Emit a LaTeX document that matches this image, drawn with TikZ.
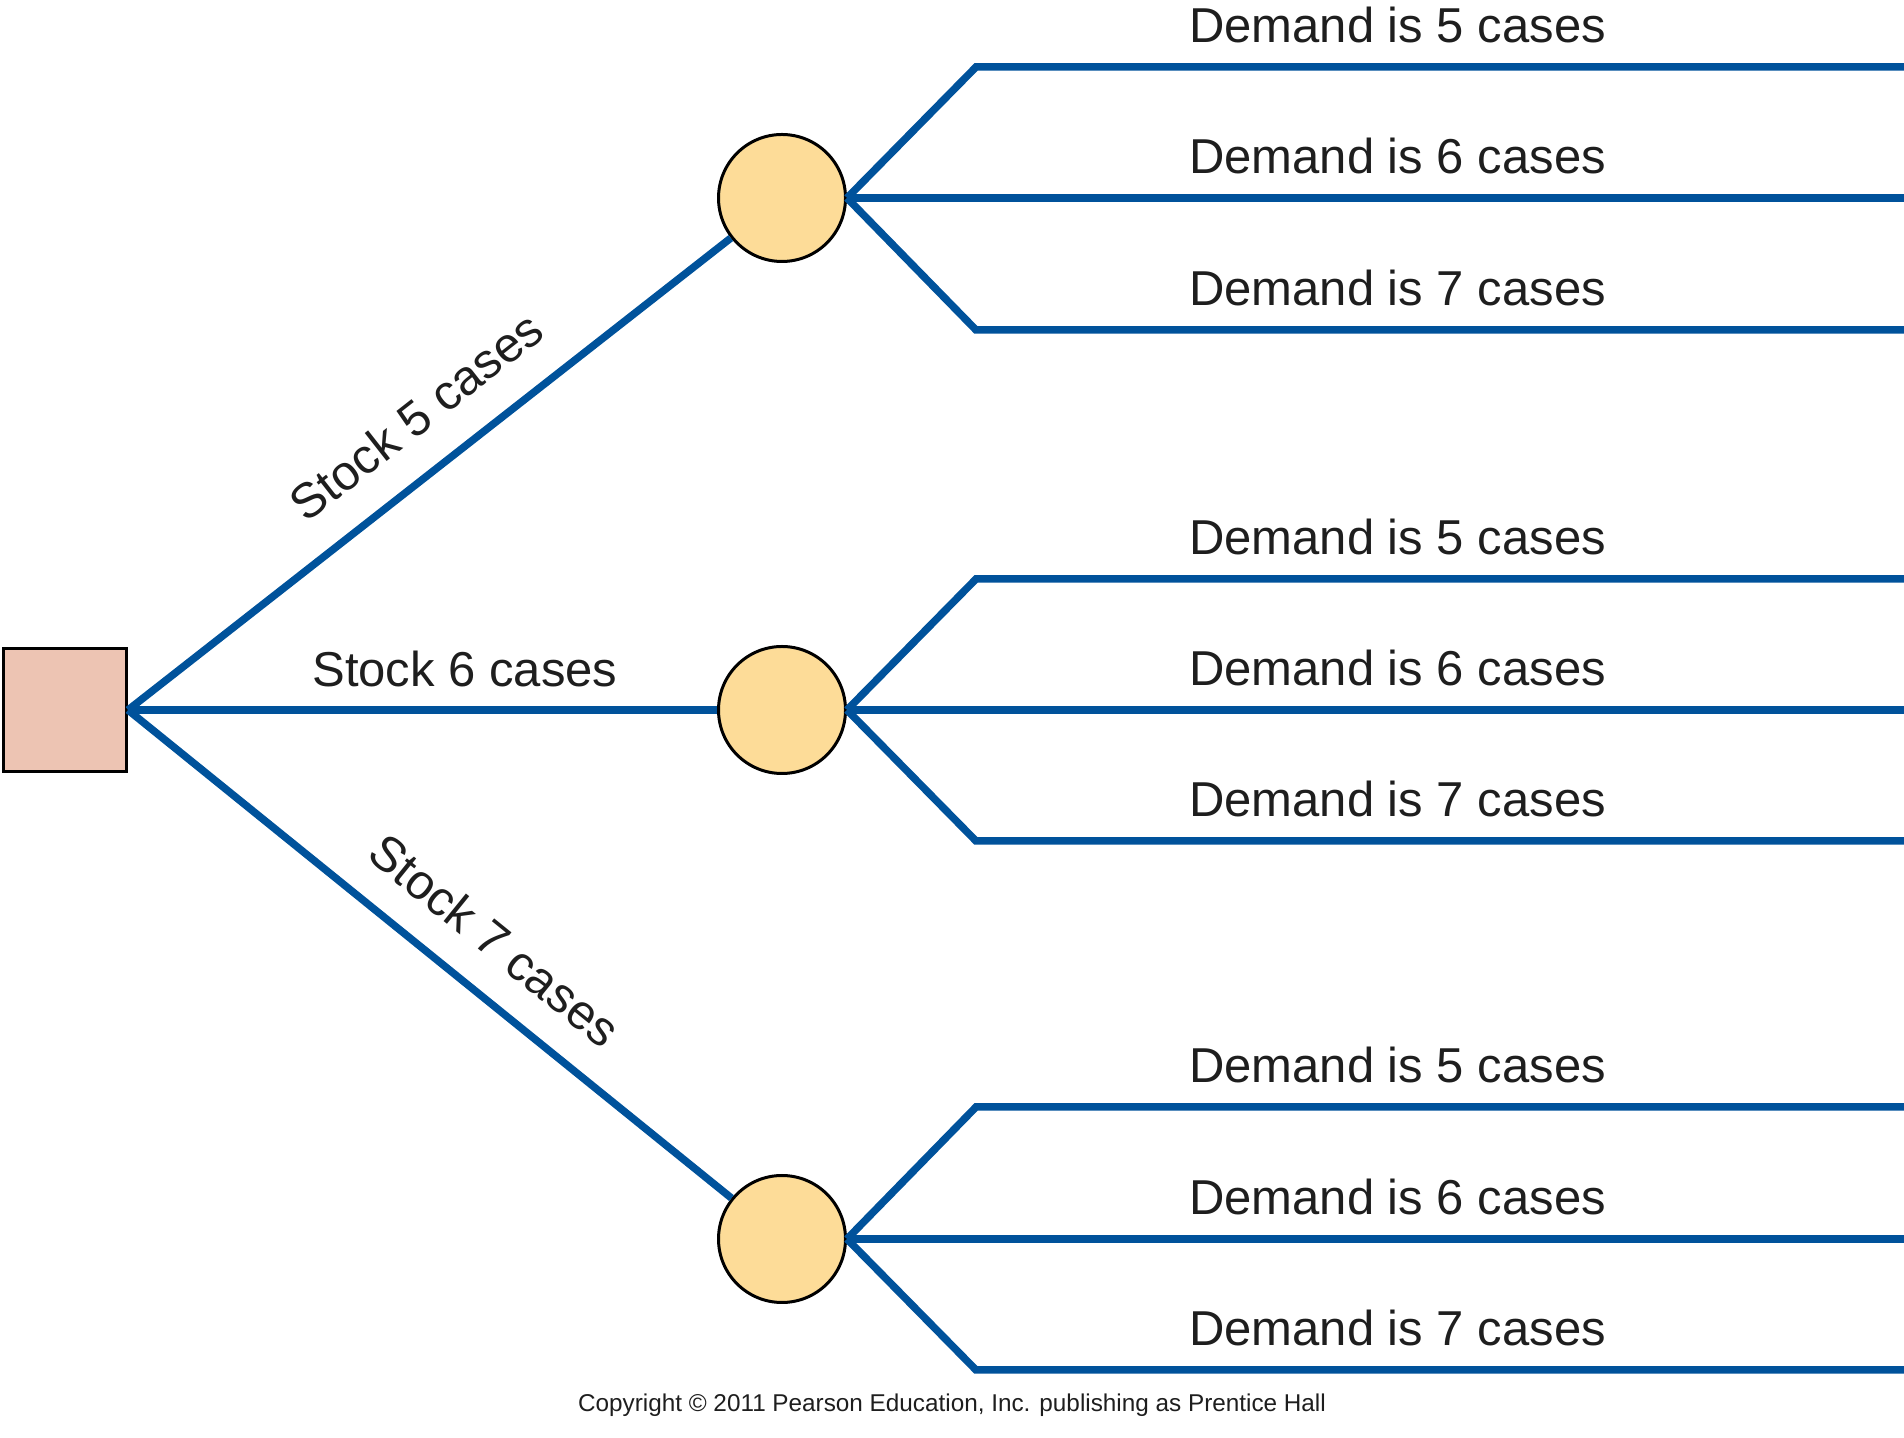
\documentclass[tikz,border=0pt]{standalone}
\usepackage{fontspec}
\setmainfont{Liberation Sans}
\definecolor{branch}{RGB}{0,82,155}
\definecolor{sqfill}{RGB}{237,196,179}
\definecolor{chfill}{RGB}{253,220,152}
\definecolor{ink}{RGB}{30,30,30}
\begin{document}
\begin{tikzpicture}[x=1pt,y=1pt,
  decision/.style={draw=black, line width=3pt, fill=sqfill, minimum size=123pt, inner sep=0pt},
  chance/.style={circle, draw=black, line width=3pt, fill=chfill, minimum size=127pt, inner sep=0pt},
  branchline/.style={draw=branch, line width=7.5pt, line join=miter},
  lbl/.style={font=\fontsize{49}{59}\selectfont, text=ink, inner sep=0pt},
  demand/.style={lbl, anchor=base},
  note/.style={font=\fontsize{24.3}{29}\selectfont, text=ink, inner sep=0pt, anchor=base}]
\useasboundingbox (0,0) rectangle (1904,1438);

% nodes
\node[decision] (sq) at (65,728) {};
\node[chance] (c1) at (782,1240) {};
\node[chance] (c2) at (782,728) {};
\node[chance] (c3) at (782,199) {};

% bend and end coordinates
\coordinate (b11) at (976,1371); \coordinate (e11) at (1904,1371);
\coordinate (e12) at (1904,1240);
\coordinate (b13) at (976,1108); \coordinate (e13) at (1904,1108);
\coordinate (b21) at (976,859);  \coordinate (e21) at (1904,859);
\coordinate (e22) at (1904,728);
\coordinate (b23) at (976,597);  \coordinate (e23) at (1904,597);
\coordinate (b31) at (976,331);  \coordinate (e31) at (1904,331);
\coordinate (e32) at (1904,199);
\coordinate (b33) at (976,68);   \coordinate (e33) at (1904,68);

% decision branches
\draw[branchline] (sq.east) -- node[lbl, pos=0.533, sloped, above=32pt] {Stock 5 cases} (c1);
\draw[branchline] (sq.east) -- node[lbl, pos=0.572, above=19pt] {Stock 6 cases} (c2);
\draw[branchline] (sq.east) -- node[lbl, pos=0.554, sloped, above=30pt] {Stock 7 cases} (c3);

% chance branches
\draw[branchline] (c1.east) -- (b11) -- (e11);
\draw[branchline] (c1.east) -- (e12);
\draw[branchline] (c1.east) -- (b13) -- (e13);
\draw[branchline] (c2.east) -- (b21) -- (e21);
\draw[branchline] (c2.east) -- (e22);
\draw[branchline] (c2.east) -- (b23) -- (e23);
\draw[branchline] (c3.east) -- (b31) -- (e31);
\draw[branchline] (c3.east) -- (e32);
\draw[branchline] (c3.east) -- (b33) -- (e33);

% demand labels
\node[demand] (d11) at (1397.5,1395) {Demand is 5 cases};
\node[demand] (d12) at (1397.5,1264) {Demand is 6 cases};
\node[demand] (d13) at (1397.5,1132) {Demand is 7 cases};
\node[demand] (d21) at (1397.5,883) {Demand is 5 cases};
\node[demand] (d22) at (1397.5,752) {Demand is 6 cases};
\node[demand] (d23) at (1397.5,621) {Demand is 7 cases};
\node[demand] (d31) at (1397.5,355) {Demand is 5 cases};
\node[demand] (d32) at (1397.5,223) {Demand is 6 cases};
\node[demand] (d33) at (1397.5,92) {Demand is 7 cases};

% copyright
\node[note] (copy) at (952,26) {Copyright © 2011 Pearson Education, Inc. publishing as Prentice Hall};
\end{tikzpicture}
\end{document}
